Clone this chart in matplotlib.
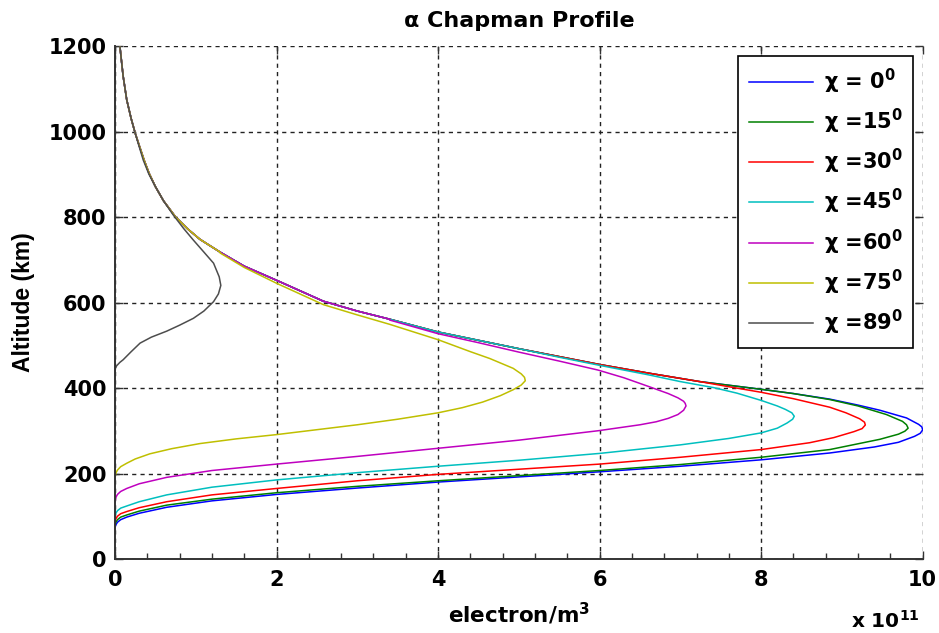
import matplotlib
matplotlib.use("Agg")
import matplotlib.pyplot as plt
from matplotlib.ticker import MultipleLocator

plt.rcParams['font.family'] = ['DejaVu Sans']
plt.rcParams['font.weight'] = 'bold'
plt.rcParams['mathtext.fontset'] = 'custom'
plt.rcParams['mathtext.rm'] = 'DejaVu Sans:bold'
plt.rcParams['mathtext.default'] = 'rm'

# values, x in units of 1e11 electron/m^3, altitude in km
# upper branch shared by the low-angle curves (from near the peaks upward)
upper_ne = [8.4, 8.0, 7.24, 6.6, 6.0, 5.0, 4.0, 3.4, 3.0, 2.58, 2.0, 1.6, 1.3, 1.05, 0.9, 0.75,
            0.6, 0.5, 0.42, 0.36, 0.3, 0.25, 0.2, 0.145, 0.1, 0.06]
upper_h = [387, 397, 415, 435, 455, 492, 531, 561, 580, 603, 652, 685, 718, 748, 772, 800,
           838, 871, 903, 933, 967, 996, 1030, 1074, 1130, 1200]

ne_0 = [0, 0.01, 0.03, 0.07, 0.145, 0.3, 0.64, 1.2, 2.0, 3.0, 4.0, 5.0, 6.0, 7.0, 8.0, 8.85,
        9.4, 9.7, 9.9, 9.97, 10.0, 9.99, 9.95, 9.8, 9.47, 9.2, 8.85]
h_0 = [74, 80, 86, 92, 98, 107, 121, 136, 151, 166, 180, 192, 204, 217, 232, 248,
       262, 273, 287, 294, 302, 309, 315, 330, 348, 360, 374]

ne_15 = [0, 0.01, 0.03, 0.07, 0.145, 0.3, 0.64, 1.2, 2.0, 3.0, 4.0, 5.0, 6.0, 7.0, 8.0, 8.85,
         9.47, 9.7, 9.78, 9.82, 9.8, 9.75, 9.55, 9.2, 8.85]
h_15 = [79.5, 86, 92, 98, 103, 112, 126, 140, 155, 170, 183, 195, 207, 221, 238, 256,
        280, 292, 299, 306, 314, 322, 338, 358, 373]

ne_30 = [0, 0.01, 0.03, 0.07, 0.145, 0.3, 0.64, 1.2, 2.0, 3.0, 4.0, 5.0, 6.0, 7.0, 8.0, 8.6,
         8.9, 9.15, 9.25, 9.29, 9.28, 9.22, 9.05, 8.85, 8.4, 8.0, 7.6]
h_30 = [87, 94, 100, 106, 111, 120, 134, 150, 165, 183, 198, 210, 222, 238, 256, 272,
        284, 298, 305, 313.5, 320, 328, 342, 355, 375, 390, 403]

ne_45 = [0, 0.01, 0.03, 0.07, 0.145, 0.3, 0.64, 1.2, 2.0, 3.0, 4.0, 5.0, 6.0, 7.0, 7.6, 8.0,
         8.2, 8.32, 8.39, 8.41, 8.38, 8.3, 8.2, 8.0, 7.7, 7.41, 7.0, 6.6, 6.0, 5.5]
h_45 = [99, 107, 113, 119, 124, 134, 150, 168, 185, 202, 217, 231, 247, 267, 282, 295,
        306, 318, 327, 334, 342, 350, 358, 371, 388, 401, 415, 431, 453, 472]

ne_60 = [0, 0.01, 0.03, 0.07, 0.145, 0.3, 0.64, 1.2, 2.0, 3.0, 4.0, 5.0, 5.98, 6.5, 6.7, 6.85,
         6.97, 7.04, 7.07, 7.06, 7.04, 6.97, 6.85, 6.6, 6.3, 5.98, 5.5, 5.0, 4.5, 4.0, 3.4]
h_60 = [134, 144, 151, 158, 165, 176, 191, 207, 222, 240, 259, 278, 300, 314, 321, 329,
        338, 348, 358, 364, 369, 377, 387, 404, 424, 442, 463, 484, 506, 527, 559]

ne_75 = [0, 0.01, 0.03, 0.07, 0.145, 0.25, 0.43, 0.7, 1.05, 1.5, 2.0, 3.0, 3.5, 4.0, 4.3, 4.55,
         4.77, 4.93, 5.03, 5.08, 5.07, 5.03, 4.93, 4.64, 4.4, 4.0, 3.4, 3.0, 2.58, 2.0, 1.6, 1.3]
h_75 = [192.6, 201, 208, 216, 224, 234, 246, 258, 270, 281, 291, 314, 327, 342, 354, 367,
        382, 396, 407, 417, 425, 433, 446, 469, 485, 513, 549, 571, 595, 645, 682, 716]

ne_89 = [0, 0.005, 0.02, 0.06, 0.1, 0.2, 0.31, 0.45, 0.64, 0.8, 0.97, 1.1, 1.22, 1.28, 1.31,
         1.29, 1.22, 1.1, 0.97, 0.85, 0.72, 0.6, 0.5, 0.42, 0.35, 0.3, 0.25, 0.2, 0.145, 0.1, 0.06]
h_89 = [438, 446, 452, 460, 466, 485, 505, 519, 533, 547, 563, 580, 602, 620, 640,
        660, 692, 718, 746, 773, 805, 838, 871, 900, 933, 964, 996, 1030, 1074, 1130, 1200]

labels = ['$\\chi$ = 0$^{0}$', '$\\chi$ =15$^{0}$', '$\\chi$ =30$^{0}$', '$\\chi$ =45$^{0}$',
          '$\\chi$ =60$^{0}$', '$\\chi$ =75$^{0}$', '$\\chi$ =89$^{0}$']
colors = ['#0000ff', '#008000', '#ff0000', '#00bfbf', '#bf00bf', '#bfbf00', '#4d4d4d']


def tail_after(ne, h):
    # join a curve onto the shared upper branch above its last read point
    out_ne = list(ne)
    out_h = list(h)
    for x, y in zip(upper_ne, upper_h):
        if y > out_h[-1]:
            out_ne.append(x)
            out_h.append(y)
    return out_ne, out_h


curves = [tail_after(ne_0, h_0), tail_after(ne_15, h_15), tail_after(ne_30, h_30),
          tail_after(ne_45, h_45), tail_after(ne_60, h_60), tail_after(ne_75, h_75),
          (ne_89, h_89)]

fig = plt.figure(figsize=(9.39, 6.33), dpi=100)
ax = fig.add_axes([0.1225, 0.1169, 0.8601, 0.8104])

for (x, y), c, lab in zip(curves, colors, labels):
    ax.plot(x, y, color=c, lw=1.1, label=lab)

ax.set_xlim(0, 10)
ax.set_ylim(0, 1200)
ax.xaxis.set_major_locator(MultipleLocator(2))
ax.xaxis.set_minor_locator(MultipleLocator(0.4))
ax.yaxis.set_major_locator(MultipleLocator(200))

ax.grid(True, which='major', color='#222222', linestyle=(0, (3, 3)), linewidth=1)
ax.spines['top'].set_visible(False)
ax.spines['right'].set_visible(False)
for s in ['left', 'bottom']:
    ax.spines[s].set_color('#333333')
    ax.spines[s].set_linewidth(1.4)

ax.tick_params(which='major', direction='in', length=6, width=1, top=True, right=True,
               labelsize=15, color='#333333')
ax.tick_params(which='minor', direction='in', length=4, width=1, top=False, right=False,
               color='#333333')
ax.tick_params(axis='x', pad=8)
ax.tick_params(axis='y', pad=6)

ax.set_title('α Chapman Profile', fontsize=16, fontweight='bold', pad=14)
ax.set_xlabel('electron/m$^{3}$', fontsize=15.5, fontweight='bold', labelpad=8)
ax.set_ylabel('Altitude (km)', fontsize=16.5, fontweight='bold', family='Liberation Sans',
              labelpad=10)
fig.text(0.98, 0.008, 'x 10$^{11}$', fontsize=14.5, fontweight='bold', ha='right', va='baseline')

leg = ax.legend(loc='upper right', bbox_to_anchor=(0.988, 0.9805), borderaxespad=0,
                fontsize=15, handlelength=3.1, handletextpad=0.5, labelspacing=0.53,
                borderpad=0.5, fancybox=False, framealpha=1, edgecolor='black')
leg.get_frame().set_linewidth(1.2)

fig.savefig('out.png', dpi=100)
